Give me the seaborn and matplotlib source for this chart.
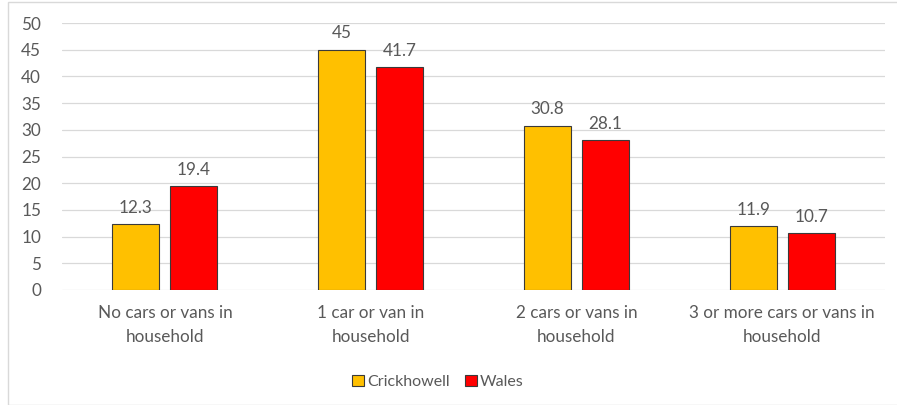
import matplotlib
matplotlib.use("Agg")
import matplotlib.pyplot as plt
from matplotlib.patches import Rectangle, Patch
import seaborn as sns
import pandas as pd

categories = [
    "No cars or vans in\nhousehold",
    "1 car or van in\nhousehold",
    "2 cars or vans in\nhousehold",
    "3 or more cars or vans in\nhousehold",
]
crickhowell = [12.3, 45, 30.8, 11.9]
wales = [19.4, 41.7, 28.1, 10.7]
series_names = ["Crickhowell", "Wales"]
colors = ["#FFC000", "#FF0000"]
yticks = [0, 5, 10, 15, 20, 25, 30, 35, 40, 45, 50]

df = pd.DataFrame({
    "category": categories * 2,
    "series": [series_names[0]] * 4 + [series_names[1]] * 4,
    "value": crickhowell + wales,
})

sns.set_style("white")
plt.rcParams["font.family"] = ["Lato", "DejaVu Sans"]
text_color = "#595959"
fs = 12.3

fig = plt.figure(figsize=(8.97, 4.05), dpi=100)
ax = fig.add_axes([62 / 897, (405 - 290) / 405, (885 - 62) / 897, (290 - 23) / 405])

sns.barplot(data=df, x="category", y="value", hue="series", order=categories,
            hue_order=series_names, palette=colors, saturation=1, width=0.564, gap=0.19,
            edgecolor="#3a3a3a", linewidth=0.8, ax=ax, legend=False, zorder=3)

ax.set_ylim(0, 50)
ax.set_xlim(-0.5, 3.5)
ax.set_yticks(yticks)
ax.set_yticklabels([str(t) for t in yticks])
ax.yaxis.grid(True, color="#d9d9d9", linewidth=0.9, zorder=0)
ax.set_axisbelow(True)
for s in ax.spines.values():
    s.set_visible(False)
ax.tick_params(axis="both", length=0, colors=text_color, labelsize=fs)
ax.tick_params(axis="y", pad=15)
ax.tick_params(axis="x", pad=11)
ax.set_xlabel("")
ax.set_ylabel("")
for lbl in ax.get_xticklabels():
    lbl.set_linespacing(1.6)

for cont in ax.containers:
    labels = [("%g" % b.get_height()) for b in cont]
    ax.bar_label(cont, labels=labels, padding=6, color=text_color, fontsize=fs)

handles = [Patch(facecolor=c, edgecolor="#3a3a3a", linewidth=0.8) for c in colors]
fig.legend(handles, series_names, loc="center", bbox_to_anchor=(438 / 897, 1 - 382 / 405),
           ncol=2, frameon=False, fontsize=11.5, handlelength=0.7, handleheight=0.7,
           handletextpad=0.2, columnspacing=1.0, labelcolor=text_color)

fig.patches.append(Rectangle((8 / 897, 0.0), 1.2, 1 - 2 / 405, transform=fig.transFigure,
                             fill=False, edgecolor="#d9d9d9", linewidth=1.0))

fig.savefig("out.png", dpi=100)
